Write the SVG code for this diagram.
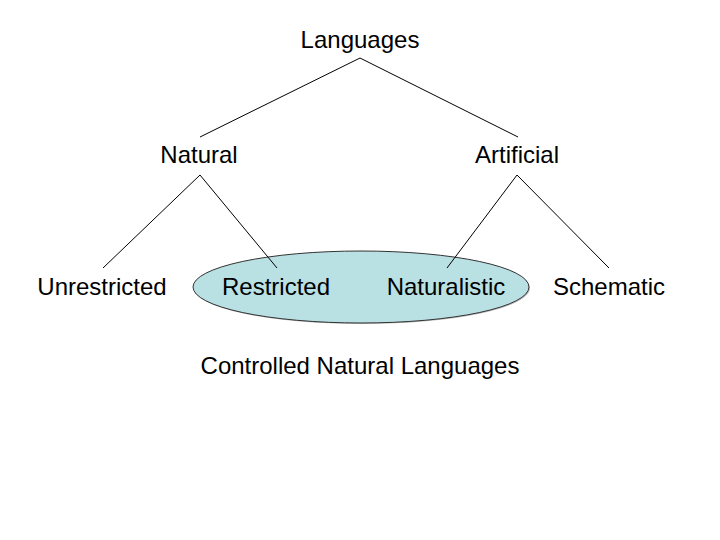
<svg xmlns="http://www.w3.org/2000/svg" width="720" height="540" viewBox="0 0 720 540">
<style>
text{font-family:"Liberation Sans",Arial,sans-serif;font-size:24px;fill:#000;text-anchor:middle}
.ln{stroke:#000;stroke-width:1;fill:none}
</style>
<rect width="720" height="540" fill="#fff"/>
<g id="cnl">
<ellipse cx="362" cy="288" rx="168" ry="36" fill="#777" opacity="0.5"/>
<ellipse cx="361" cy="287" rx="168" ry="36" fill="#b9e0e3" stroke="#333" stroke-width="1"/>
<text x="360" y="374">Controlled Natural Languages</text>
</g>
<g id="connectors">
<line class="ln" x1="360" y1="58" x2="200" y2="137"/>
<line class="ln" x1="360" y1="58" x2="518" y2="137"/>
<line class="ln" x1="200" y1="175" x2="103" y2="268"/>
<line class="ln" x1="200" y1="175" x2="277" y2="268"/>
<line class="ln" x1="517" y1="175" x2="447" y2="268"/>
<line class="ln" x1="517" y1="175" x2="609" y2="268"/>
</g>
<g id="languages"><text x="360" y="48">Languages</text></g>
<g id="natural"><text x="199" y="163">Natural</text></g>
<g id="artificial"><text x="517" y="163">Artificial</text></g>
<g id="unrestricted"><text x="102" y="295">Unrestricted</text></g>
<g id="restricted"><text x="276" y="295">Restricted</text></g>
<g id="naturalistic"><text x="446" y="295">Naturalistic</text></g>
<g id="schematic"><text x="609" y="295">Schematic</text></g>
</svg>
